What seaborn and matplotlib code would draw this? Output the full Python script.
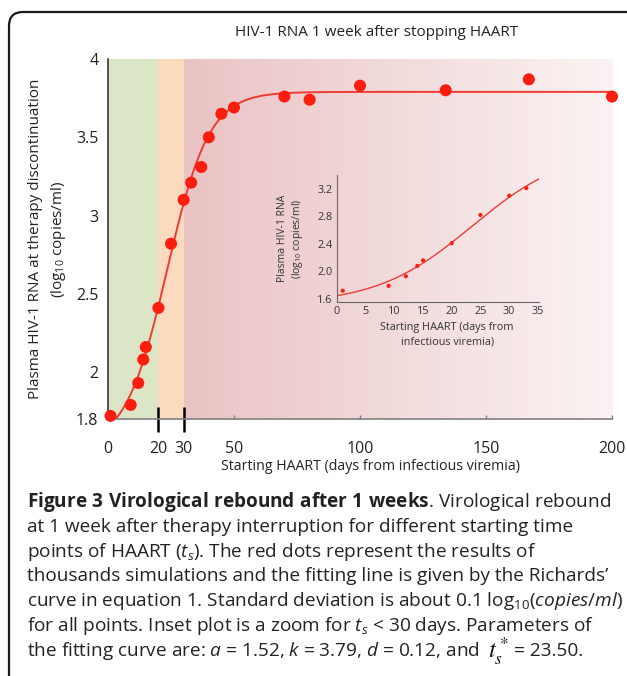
import numpy as np
import matplotlib
matplotlib.use("Agg")
import matplotlib.pyplot as plt
import seaborn as sns
from matplotlib.colors import LinearSegmentedColormap
from matplotlib.patches import FancyBboxPatch
from matplotlib.transforms import IdentityTransform

sns.set_style("white")
plt.rcParams['font.family'] = ['Open Sans', 'DejaVu Sans']
plt.rcParams['mathtext.fontset'] = 'custom'
plt.rcParams['mathtext.rm'] = 'Open Sans'
plt.rcParams['mathtext.it'] = 'Open Sans:italic'
plt.rcParams['mathtext.bf'] = 'Open Sans:bold'

# simulated rebound (log10 copies/ml) vs starting day of HAART
start_day = [1, 9, 12, 14, 15, 20, 25, 30, 33, 37, 40, 45, 50, 70, 80, 100, 134, 167, 200]
rna_log = [1.72, 1.79, 1.93, 2.08, 2.16, 2.41, 2.82, 3.10, 3.21, 3.31, 3.50, 3.65, 3.69,
           3.76, 3.74, 3.83, 3.80, 3.87, 3.76]
inset_n = 9  # points shown in the inset (t_s < 35)

# Richards' curve parameters from the caption
fit_a, fit_k, fit_d, fit_ts = 1.52, 3.79, 0.12, 23.50

x_ticks = [0, 50, 100, 150, 200]
x_marks = [20, 30]
y_ticks = [1.70, 2, 2.5, 3, 3.5, 4]
y_labels = ['1.8', '2', '2.5', '3', '3.5', '4']

RED = '#fb1d0d'
LINE = '#ee3b33'
W, H = 627, 676

fig = plt.figure(figsize=(W / 100, H / 100), dpi=100)
ax = fig.add_axes([108 / W, 1 - 419 / H, 504 / W, 360 / H])

# background phases
ax.axvspan(0, 20, color='#dde5c7', lw=0, zorder=0)
ax.axvspan(20, 30, color='#fcdabe', lw=0, zorder=0)
cmap = LinearSegmentedColormap.from_list('fade', ['#eac3c4', '#fbf3f3'])
ax.imshow(np.linspace(0, 1, 256).reshape(1, -1), extent=[30, 200, 1.70, 4.0],
          aspect='auto', cmap=cmap, zorder=0)

t_main = np.linspace(0, 200, 400)
fit_main = fit_a + (fit_k - fit_a) / (1 + np.exp(-fit_d * (t_main - fit_ts)))
sns.lineplot(x=t_main, y=fit_main, ax=ax, color=LINE, lw=1.4, zorder=2)
sns.scatterplot(x=start_day, y=rna_log, ax=ax, color=RED, s=75, edgecolor='none',
                zorder=3, clip_on=False)

ax.set_xlim(0, 200)
ax.set_ylim(1.70, 4.0)
sns.despine(ax=ax)
ax.spines['left'].set_color('#3a3a3a')
ax.spines['bottom'].set_color('#808080')
ax.spines['left'].set_linewidth(1.2)
ax.spines['bottom'].set_linewidth(1.2)

ax.set_xticks(x_marks)
ax.set_xticklabels([str(v) for v in x_marks])
ax.set_xticks(x_ticks, minor=True)
ax.set_xticklabels([str(v) for v in x_ticks], minor=True)
ax.tick_params(axis='x', which='major', bottom=True, direction='inout', length=18, width=1.8,
               color='black', pad=7, labelsize=11.5, labelcolor='#222222')
ax.tick_params(axis='x', which='minor', bottom=True, direction='in', length=3, width=1,
               color='#808080', pad=16, labelsize=11.5, labelcolor='#222222')
ax.set_yticks(y_ticks)
ax.set_yticklabels(y_labels)
ax.tick_params(axis='y', which='major', length=0, pad=7, labelsize=11.5, labelcolor='#222222')
# small cap tick at the top of the y axis
ax.set_yticks([4], minor=True)
ax.tick_params(axis='y', which='minor', left=True, direction='in', length=4, width=1.2,
               color='#3a3a3a')

ax.set_ylabel("Plasma HIV-1 RNA at therapy discontinuation\n(log$_{\\mathrm{10}}$ copies/ml)",
              fontsize=11, linespacing=1.4, color='#222222', labelpad=6)
ax.set_xlabel("Starting HAART (days from infectious viremia)", fontsize=10.2, color='#222222')
ax.xaxis.set_label_coords(0.52, -0.112)

fig.text(377 / W, 1 - 33 / H, "HIV-1 RNA 1 week after stopping HAART",
         ha='center', va='center', fontsize=11, color='#222222')

# inset zoom for early start
ins = fig.add_axes([337 / W, 1 - 302 / H, 202 / W, 127 / H])
ins.patch.set_alpha(0)
t_ins = np.linspace(0, 35.2, 200)
fit_ins = fit_a + (fit_k - fit_a) / (1 + np.exp(-fit_d * (t_ins - fit_ts)))
sns.lineplot(x=t_ins, y=fit_ins, ax=ins, color=LINE, lw=1.0)
sns.scatterplot(x=start_day[:inset_n], y=rna_log[:inset_n], ax=ins, color=RED, s=9,
                edgecolor='none', zorder=3)
ins.set_xlim(0, 35.2)
ins.set_ylim(1.556, 3.40)
ins.set_xticks(range(0, 36, 5))
ins.set_yticks([1.6, 2.0, 2.4, 2.8, 3.2])
ins.set_yticklabels(['1.6', '2.0', '2.4', '2.8', '3.2'])
sns.despine(ax=ins)
for s in ['left', 'bottom']:
    ins.spines[s].set_color('#666666')
    ins.spines[s].set_linewidth(0.8)
ins.tick_params(length=0, pad=3, labelsize=7.8, labelcolor='#333333')
ins.set_ylabel("Plasma HIV-1 RNA\n(log$_{\\mathrm{10}}$ copies/ml)", fontsize=7.5,
               linespacing=1.15, color='#333333', labelpad=9)
ins.set_xlabel("Starting HAART (days from\ninfectious viremia)", fontsize=7.8,
               linespacing=1.45, color='#333333')
ins.xaxis.set_label_coords(0.545, -0.157)

# rounded frame
frame = FancyBboxPatch((9, -40), 720, H - 12 + 40, boxstyle='round,pad=0,rounding_size=14',
                       transform=IdentityTransform(), fill=False, ec='#1a1a1a', lw=1.6)
fig.add_artist(frame)

# caption
cap_size = 13.7
cap_lines = [
    "$\\mathbf{Figure\\ 3\\ Virological\\ rebound\\ after\\ 1\\ weeks}$. Virological rebound",
    "at 1 week after therapy interruption for different starting time",
    "points of HAART ($t_s$). The red dots represent the results of",
    "thousands simulations and the fitting line is given by the Richards\u2019",
    "curve in equation 1. Standard deviation is about 0.1 log$_{\\mathrm{10}}$($\\mathit{copies/ml}$)",
    "for all points. Inset plot is a zoom for $t_s$ < 30 days. Parameters of",
]
base0, step = 507, 24.8
for i, line in enumerate(cap_lines):
    fig.text(27, H - (base0 + i * step), line, transform=IdentityTransform(),
             fontsize=cap_size, va='baseline', color='#222222')

renderer = fig.canvas.get_renderer()
y7 = H - (base0 + 6 * step)
t1 = fig.text(27, y7, "the fitting curve are: $a$ = 1.52, $k$ = 3.79, $d$ = 0.12, and",
              transform=IdentityTransform(), fontsize=cap_size, va='baseline', color='#222222')
x2 = 27 + t1.get_window_extent(renderer).width + 8
t2 = fig.text(x2, y7 - 3, "$t_s^*$", transform=IdentityTransform(), fontsize=17.5,
              math_fontfamily='stix', va='baseline', color='#111111')
x3 = x2 + t2.get_window_extent(renderer).width + 6
fig.text(x3, y7, "= 23.50.", transform=IdentityTransform(), fontsize=cap_size,
         va='baseline', color='#222222')

fig.savefig("out.png", dpi=100)
